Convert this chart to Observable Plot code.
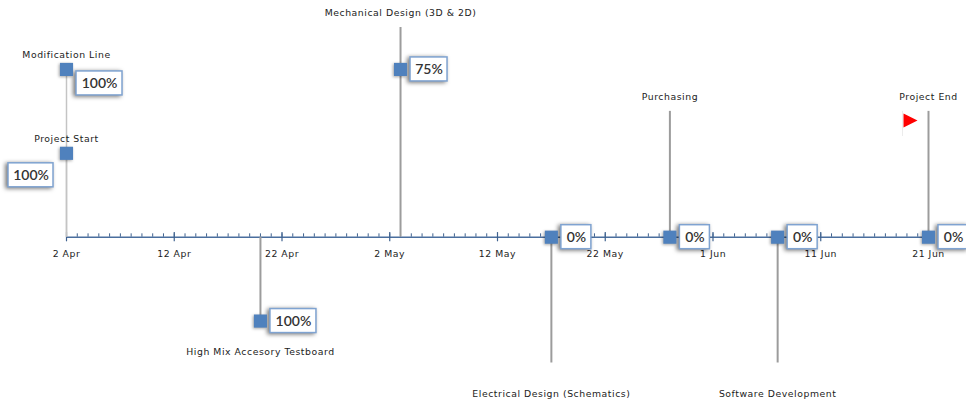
<!DOCTYPE html>
<html>
<head>
<meta charset="utf-8">
<script src="https://cdn.jsdelivr.net/npm/d3@7"></script>
<script src="https://cdn.jsdelivr.net/npm/@observablehq/plot@0.6"></script>
<style>
html,body{margin:0;padding:0;background:#fff;overflow:hidden}
g[aria-label="rect"] rect{filter:drop-shadow(-2px 1px 2px rgba(0,0,0,.55))}
g[aria-label="dot"][fill="#4f81bd"] path{filter:drop-shadow(-1px 1px 1.5px rgba(0,0,0,.35))}
g[aria-label="text"][font-family*="DejaVu"]{letter-spacing:.55px}
</style>
</head>
<body>
<div id="chart"></div>
<script>
const eventNames = ["Modification Line","Project Start","High Mix Accesory Testboard","Mechanical Design (3D & 2D)","Electrical Design (Schematics)","Purchasing","Software Development","Project End"];
const eventDates = ["2012-04-02","2012-04-02","2012-04-20","2012-05-03","2012-05-17","2012-05-28","2012-06-07","2012-06-21"];
const eventLevels = [4,2,-2,5,-3,3,-3,3];
const markerLevels = [4,2,-2,4,0,0,0,0];
const percents = ["100%","100%","100%","75%","0%","0%","0%","0%"];
const tickDates = ["2012-04-02","2012-04-12","2012-04-22","2012-05-02","2012-05-12","2012-05-22","2012-06-01","2012-06-11","2012-06-21"];
const tickLabels = ["2 Apr","12 Apr","22 Apr","2 May","12 May","22 May","1 Jun","11 Jun","21 Jun"];

const events = eventNames.map((name,i)=>({name,date:new Date(eventDates[i]),level:eventLevels[i],marker:markerLevels[i],pct:percents[i]}));
const majors = tickDates.map((t,i)=>({date:new Date(t),label:tickLabels[i]}));
const start = majors[0].date, end = majors[majors.length-1].date;
const minors = d3.utcDay.range(start, d3.utcDay.offset(end,1));

const stemColor = "#9c9c9c";
const textFont = {fontFamily:"'DejaVu Sans'",fontSize:9.3,fill:"#222"};
const pctFont = {fontFamily:"Lato",fontSize:14,fontWeight:600,fill:"#333"};
const flagShape = {draw(c){c.moveTo(-7,-7);c.lineTo(7,0);c.lineTo(-7,7);c.closePath();}};

function box(list,left,right,dy){
  return [
    Plot.rect(list,{x1:"date",x2:"date",y1:"marker",y2:"marker",insetLeft:left,insetRight:-right,insetTop:dy-12,insetBottom:-dy-12,fill:"#fff",stroke:"#7fa3d1",strokeWidth:1.5}),
    Plot.text(list,{x:"date",y:"marker",text:"pct",dx:(left+right)/2,dy,...pctFont})
  ];
}
const byName = n => events.filter(e=>n.includes(e.name));
const zeroNames = ["Electrical Design (Schematics)","Purchasing","Software Development","Project End"];

const chart = Plot.plot({
  width:966,height:405,margin:0,
  style:{background:"#fff",overflow:"hidden"},
  x:{type:"time",domain:[start,end],range:[66,928],axis:null},
  y:{type:"linear",domain:[-3,5],range:[362.5,27],axis:null},
  marks:[
    Plot.ruleY([0],{x1:start,x2:end,stroke:"#4a6e9e",strokeWidth:1.5}),
    Plot.ruleX(minors,{x:d=>d,y1:0,y2:0.08,stroke:"#3f628f",strokeWidth:1}),
    Plot.ruleX(majors,{x:"date",y1:-0.11,y2:0.11,stroke:"#3f628f",strokeWidth:1.2}),
    Plot.text(majors,{x:"date",y:0,text:"label",dy:17,...textFont}),
    Plot.ruleX(events.filter(e=>e.name!=="Modification Line"&&e.name!=="Project Start"),{x:"date",y1:0,y2:"level",stroke:stemColor,strokeWidth:2}),
    Plot.ruleX(byName(["Modification Line","Project Start"]),{x:"date",y1:0,y2:"level",stroke:"#c4c4c4",strokeWidth:1.5}),
    ...box(byName(["Modification Line"]),10,56,14),
    ...box(byName(["Project Start"]),-58,-13,22),
    ...box(byName(["High Mix Accesory Testboard"]),10,56,0),
    ...box(byName(["Mechanical Design (3D & 2D)"]),10,47,0),
    ...box(byName(zeroNames),10,40,0),
    Plot.dot(events,{x:"date",y:"marker",symbol:"square",r:7.4,fill:"#4f81bd",stroke:"none"}),
    Plot.text(events.filter(e=>e.level>=0),{x:"date",y:"level",text:"name",dy:-14.5,...textFont}),
    Plot.text(events.filter(e=>e.level<0),{x:"date",y:"level",text:"name",dy:31,...textFont}),
    Plot.ruleX(byName(["Project End"]),{x:"date",y1:3,y2:2.4,dx:-26,stroke:"#ececec",strokeWidth:1}),
    Plot.dot(byName(["Project End"]),{x:"date",y:"level",dx:-18,dy:9,symbol:flagShape,fill:"#ff0000",stroke:"none"})
  ]
});
document.getElementById("chart").append(chart);
</script>
</body>
</html>
